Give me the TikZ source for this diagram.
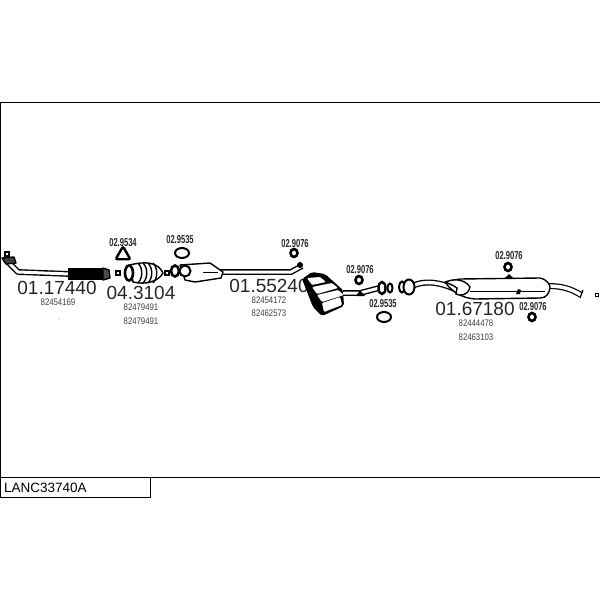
\documentclass[tikz,border=0pt]{standalone}
\usepackage{fontspec}
\setmainfont{Liberation Sans}
\tikzstyle{refbig} = [font=\fontsize{19}{19}\selectfont, inner sep=0pt, text=black!85]
\tikzstyle{refsmall} = [font=\fontsize{9.5}{10}\selectfont, inner sep=0pt, text=black!75, xscale=.82, transform shape]
\tikzstyle{refring} = [font=\bfseries\fontsize{11.5}{12}\selectfont, inner sep=0pt, text=black!85, xscale=.66, transform shape]
\tikzstyle{ring} = [ellipse, draw, line width=2pt, inner sep=0pt, fill=white]
\tikzstyle{clip} = [draw, line width=1.2pt, fill=white, minimum size=4pt, inner sep=0pt]
\tikzstyle{part} = [draw, line width=1.4pt, fill=white, line join=round]
\usetikzlibrary{shapes.geometric}
\begin{document}
\begin{tikzpicture}[x=1pt,y=-1pt]
                 \useasboundingbox (0,0) rectangle (600,600);
                 \draw [line width=.8pt] (0,102) rectangle (600,477);
                 \node [draw, line width=.8pt, minimum width=150pt, minimum height=20pt, anchor=north west, inner sep=0pt] at (0,477) (titlebox) {};
                 \node [font=\fontsize{13.5}{14}\selectfont, anchor=west, inner sep=0pt] at (4,488) (title) {LANC33740A};
                 % front pipe
                 \node [clip] at (7,254) (clip1) {};
                 \draw [line width=5.8pt, line join=round] (8,262) -- (18,272) -- (70,274);
                 \draw [line width=3pt, white, line join=round] (8,262) -- (18,272) -- (70,274);
                 \draw [part, fill=black!75] (2,258) -- (14,257) -- (16,263) -- (6,264) -- cycle;
                 \fill (68,268) rectangle (103,280);
                 \draw [part, fill=black!70] (103,268) -- (109,270) -- (110,278) -- (103,280) -- cycle;
                 \node [clip] at (118,273) (clip2) {};
                 \fill (59,319) circle (.4pt);
                 % catalyst
                 \draw [part] (130,265) .. controls (145,261) and (158,262) .. (163,273) .. controls (158,282) and (145,285) .. (133,282) -- cycle;
                 \foreach \x in {138,143,148,153}
                     \draw [line width=1.4pt] (\x,263) .. controls (\x+5,268) and (\x+5,278) .. (\x,283);
                 \node [ring, line width=2.6pt, minimum width=8pt, minimum height=15pt] at (129,273) (flange1) {};
                 \node [clip] at (167,273) (clip3) {};
                 % centre silencer
                 \draw [line width=5.8pt] (220,272) -- (291,272) -- (302,266);
                 \draw [line width=3pt, white] (220,272) -- (291,272) -- (302,266);
                 \draw [part] (180,265) -- (210,263) -- (223,272) -- (221,278) -- (195,282) -- (185,280) -- cycle;
                 \draw [line width=.9pt] (203,272) -- (218,272);
                 \node [ring, minimum width=11pt, minimum height=11pt] at (185,271) (flange2) {};
                 \node [ring, line width=2.6pt, minimum width=8pt, minimum height=11pt] at (175,271) (flange3) {};
                 % texts under the big silencer
                 \node [refbig] at (269,286) (num3) {01.55240};
                 \fill [rounded corners=2pt] (302,279) -- (312,272) -- (325,274) -- (343,290) -- (344,306) -- (322,316) -- (313,307) -- cycle;
                 \foreach \a/\b/\c/\d in {307/278/320/277, 312/287/332/283, 317/295/338/290}
                     \fill [white, rounded corners=1pt] (\a,\b) -- (\c,\d) -- (\c+6,\d+5) -- (\a+5,\b+7) -- cycle;
                 \fill [white, rounded corners=1pt] (322,303) -- (340,297) -- (342,305) -- (324,312) -- cycle;
                 \fill (300,265) circle (3pt);
                 % rear pipes
                 \draw [line width=5.8pt, line join=round] (343,293) -- (360,293) -- (383,287);
                 \draw [line width=3pt, white, line join=round] (343,293) -- (360,293) -- (383,287);
                 \fill (356,296) -- (360,290) -- (365,296) -- cycle;
                 \node [ring, line width=2.4pt, minimum width=7pt, minimum height=12pt] at (382,288) (flange4) {};
                 \node [ring, minimum width=5pt, minimum height=9pt] at (390,288) (flange5) {};
                 \draw [line width=6pt, line join=round] (412,286) .. controls (425,280) and (440,282) .. (457,290);
                 \draw [line width=3.4pt, white] (412,286) .. controls (425,280) and (440,282) .. (457,290);
                 \node [ring, minimum width=6pt, minimum height=11pt] at (402,287) (flange6) {};
                 \node [ring, minimum width=11pt, minimum height=15pt] at (409,287) (flange7) {};
                 % rear silencer
                 \draw [line width=6pt, line join=round] (548,286) .. controls (560,286) and (570,288) .. (581,295);
                 \draw [line width=3.6pt, white] (548,286) .. controls (560,286) and (570,288) .. (581,295);
                 \draw [line width=1.2pt] (583,290) -- (580,298);
                 \draw [part] (445,282) -- (460,279) -- (540,278) .. controls (548,280) and (550,285) .. (550,288) .. controls (549,294) and (546,298) .. (540,298) -- (475,299) .. controls (462,298) and (452,292) .. (445,282) -- cycle;
                 \draw [line width=.9pt] (470,291) -- (545,291);
                 \draw [line width=1.4pt, fill=white] (446,282) .. controls (452,279) and (464,278) .. (470,287) .. controls (468,296) and (460,296) .. (456,294) -- (457,288) .. controls (452,284) and (448,284) .. (446,282) -- cycle;
                 \fill (505,278) -- (509,274) -- (513,278) -- cycle;
                 \fill (516,294) -- (518,289) -- (521,290) -- (520,294) -- cycle;
                 \node [clip, minimum size=3pt] at (597,295) (clip4) {};
                 % rings
                 \node [regular polygon, regular polygon sides=3, draw, line width=2.4pt, rounded corners=2pt, minimum size=17pt, inner sep=0pt] at (123,255) (ring1) {};
                 \node [ring, minimum width=14pt, minimum height=10pt] at (182,253) (ring2) {};
                 \node [ring, line width=2.6pt, minimum width=7pt, minimum height=8pt] at (294,253) (ring3) {};
                 \node [ring, line width=2.6pt, minimum width=7pt, minimum height=8pt] at (359,280) (ring4) {};
                 \node [ring, minimum width=14pt, minimum height=10pt] at (384,317) (ring5) {};
                 \node [ring, line width=2.6pt, minimum width=7pt, minimum height=8pt] at (508,267) (ring6) {};
                 \node [ring, line width=2.6pt, minimum width=7pt, minimum height=8pt] at (532,317) (ring7) {};
                 \node [refring] at (123,243) (ringlabel1) {02.9534};
                 \node [refring] at (180,240) (ringlabel2) {02.9535};
                 \node [refring] at (295,244) (ringlabel3) {02.9076};
                 \node [refring] at (360,270) (ringlabel4) {02.9076};
                 \node [refring] at (383,304) (ringlabel5) {02.9535};
                 \node [refring] at (509,256) (ringlabel6) {02.9076};
                 \node [refring] at (533,307) (ringlabel7) {02.9076};
                 % numbers
                 \node [refbig] at (57,288) (num1) {01.17440};
                 \node [refbig] at (141,293) (num2) {04.3104};
                 \node [refbig] at (475,309) (num4) {01.67180};
                 \node [refsmall] at (58,302) (ref1) {82454169};
                 \node [refsmall] at (141,307) (ref2) {82479491};
                 \node [refsmall] at (141,321) (ref3) {82479491};
                 \node [refsmall] at (269,300) (ref4) {82454172};
                 \node [refsmall] at (269,313) (ref5) {82462573};
                 \node [refsmall] at (476,323) (ref6) {82444478};
                 \node [refsmall] at (476,337) (ref7) {82463103};
\end{tikzpicture}
\end{document}
